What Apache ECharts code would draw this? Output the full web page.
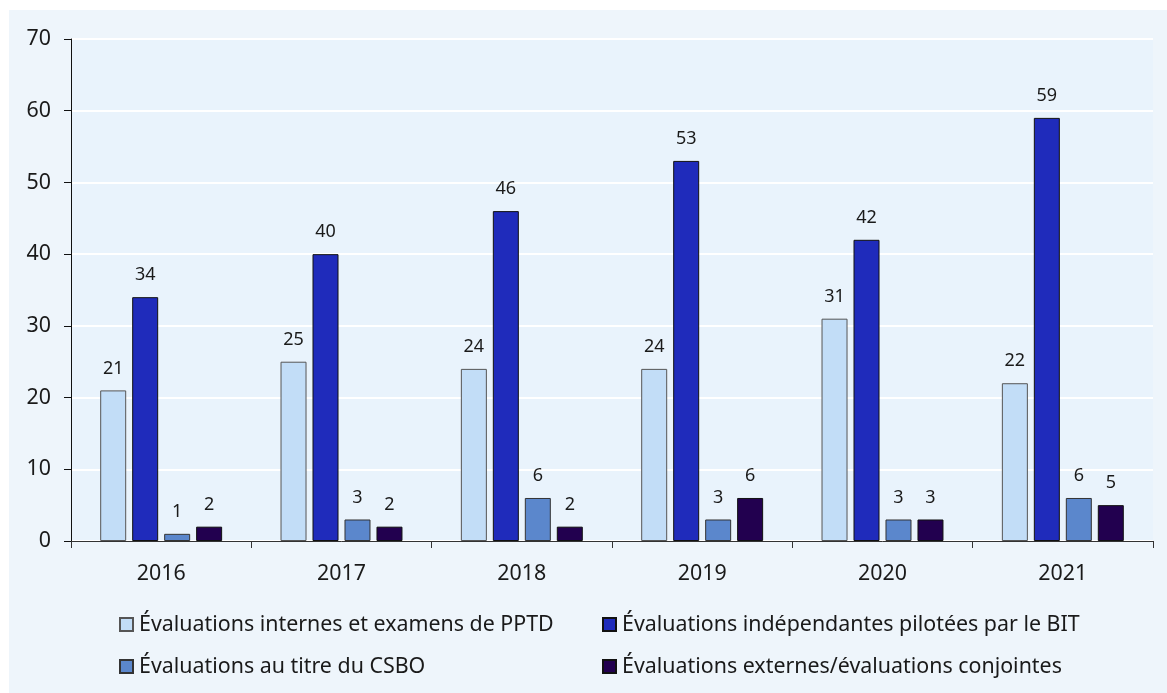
<!DOCTYPE html>
<html>
<head>
<meta charset="utf-8">
<script src="https://cdn.jsdelivr.net/npm/echarts@6/dist/echarts.min.js"></script>
<style>
  html, body { margin: 0; padding: 0; background: #ffffff; }
  #wrap { position: absolute; left: 9px; top: 10px; width: 1158px; height: 683px; background: #eef5fb; }
  #chart { width: 1167px; height: 693px; position: absolute; left: 0; top: 0; }
</style>
</head>
<body>
<div id="wrap"></div>
<div id="chart"></div>
<script>
// données
var annees = ['2016', '2017', '2018', '2019', '2020', '2021']
var nomsSeries = [
  'Évaluations internes et examens de PPTD',
  'Évaluations indépendantes pilotées par le BIT',
  'Évaluations au titre du CSBO',
  'Évaluations externes/évaluations conjointes'
]
var internes = [21, 25, 24, 24, 31, 22]
var independantes = [34, 40, 46, 53, 42, 59]
var csbo = [1, 3, 6, 3, 3, 6]
var externes = [2, 2, 2, 6, 3, 5]

var couleurs = ['#c2ddf7', '#1f2bbb', '#5b87cc', '#22004f']
var bordures = ['#555555', '#111111', '#333333', '#111111']
var valeurs = [internes, independantes, csbo, externes]

var police = 'Noto Sans'
var myChart = echarts.init(document.getElementById('chart'))

var series = valeurs.map(function (v, i) {
  return {
    name: nomsSeries[i],
    type: 'bar',
    data: v,
    barWidth: 26,
    barGap: '23%',
    itemStyle: {
      color: couleurs[i],
      borderColor: bordures[i],
      borderWidth: 1
    },
    label: {
      show: true,
      position: 'top',
      distance: 13,
      color: '#1a1a1a',
      fontSize: 18,
      fontFamily: police
    }
  }
})

var legendeTexte = {fontSize: 21.4, fontFamily: police, color: '#1a1a1a', padding: [0, 0, 0, 1]}

myChart.setOption({
  backgroundColor: 'transparent',
  animation: false,
  grid: {left: 71, right: 14, top: 39, bottom: 152, show: true, backgroundColor: '#e9f3fc', borderWidth: 0},
  legend: [
    {
      data: [nomsSeries[0], nomsSeries[2]],
      orient: 'vertical',
      left: 114,
      top: 609,
      icon: 'rect',
      itemWidth: 13,
      itemHeight: 13,
      itemGap: 21,
      textStyle: legendeTexte
    },
    {
      data: [nomsSeries[1], nomsSeries[3]],
      orient: 'vertical',
      left: 597,
      top: 609,
      icon: 'rect',
      itemWidth: 13,
      itemHeight: 13,
      itemGap: 21,
      textStyle: legendeTexte
    }
  ],
  xAxis: {
    type: 'category',
    data: annees,
    axisLine: {lineStyle: {color: '#333333', width: 1}},
    axisTick: {show: true, length: 7, lineStyle: {color: '#333333'}},
    axisLabel: {fontSize: 21.4, fontFamily: police, color: '#1a1a1a', margin: 22}
  },
  yAxis: {
    type: 'value',
    min: 0,
    max: 70,
    interval: 10,
    axisLine: {show: true, lineStyle: {color: '#111111', width: 1}},
    axisTick: {show: true, length: 7, lineStyle: {color: '#111111'}},
    axisLabel: {fontSize: 21.4, fontFamily: police, color: '#1a1a1a', margin: 20},
    splitLine: {lineStyle: {color: '#ffffff', width: 2}}
  },
  series: series
})
</script>
</body>
</html>
